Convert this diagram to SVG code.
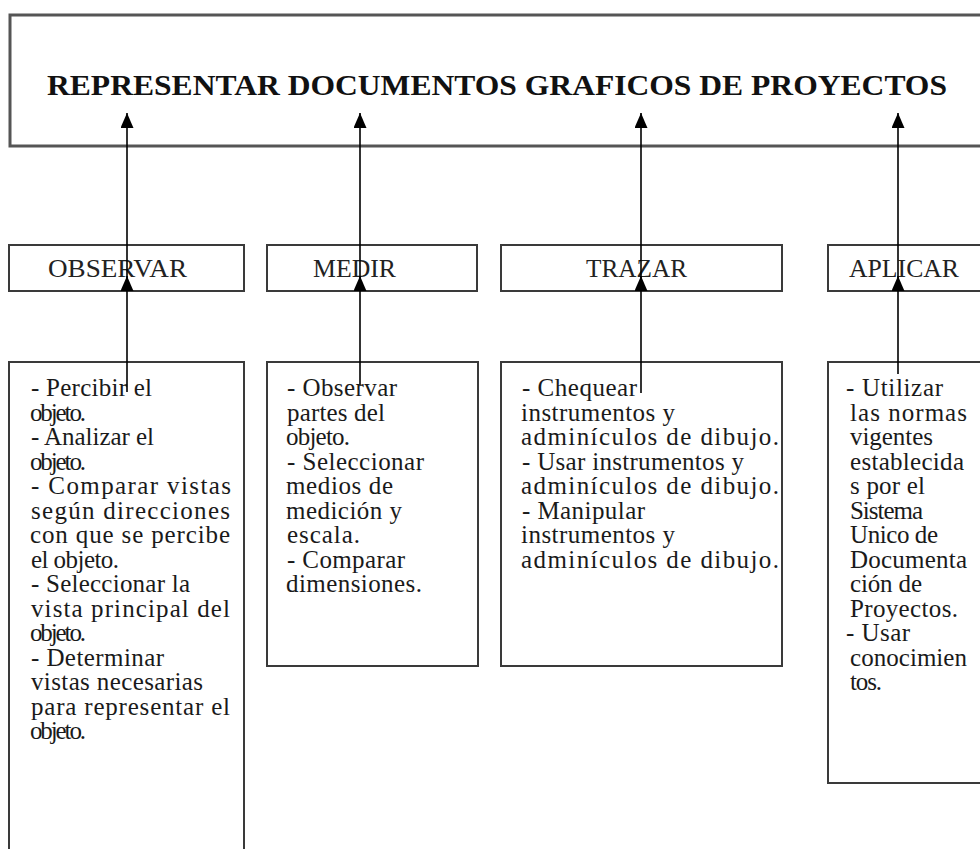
<svg xmlns="http://www.w3.org/2000/svg" width="980" height="849" viewBox="0 0 980 849">
<style>
.box{fill:#fff;stroke:#3a3a3a;stroke-width:2}
.top{fill:#fff;stroke:#555;stroke-width:3}
.title{font-family:"Liberation Serif","Times New Roman",serif;font-weight:bold;font-size:29px;fill:#111}
.lbl{font-family:"Liberation Serif","Times New Roman",serif;font-size:25px;fill:#222}
.txt{font-family:"Liberation Serif","Times New Roman",serif;font-size:25px;fill:#1a1a1a}
.con{stroke:#000;stroke-width:1.6;fill:none}
</style>
<defs>
<marker id="ah" markerUnits="userSpaceOnUse" viewBox="0 0 15 13" refX="15" refY="6.5" markerWidth="15" markerHeight="13" orient="auto">
<path d="M0,0 L15,6.5 L0,13 z" fill="#000"/>
</marker>
</defs>
<rect width="980" height="849" fill="#fff"/>

<g id="n-root">
<rect class="top" x="10" y="15" width="980" height="131"/>
<text class="title" x="47" y="95" textLength="900" lengthAdjust="spacingAndGlyphs">REPRESENTAR DOCUMENTOS GRAFICOS DE PROYECTOS</text>
</g>

<g id="n-observar">
<rect class="box" x="9" y="245" width="235" height="46"/>
<text class="lbl" x="48" y="277" textLength="139" lengthAdjust="spacingAndGlyphs">OBSERVAR</text>
</g>
<g id="n-medir">
<rect class="box" x="267" y="245" width="210" height="46"/>
<text class="lbl" x="313" y="277" textLength="83" lengthAdjust="spacingAndGlyphs">MEDIR</text>
</g>
<g id="n-trazar">
<rect class="box" x="501" y="245" width="281" height="46"/>
<text class="lbl" x="586" y="277" textLength="101" lengthAdjust="spacingAndGlyphs">TRAZAR</text>
</g>
<g id="n-aplicar">
<rect class="box" x="828" y="245" width="170" height="46"/>
<text class="lbl" x="849" y="277" textLength="110" lengthAdjust="spacingAndGlyphs">APLICAR</text>
</g>

<g id="n-observar-detalle">
<rect class="box" x="9" y="362" width="235" height="500"/>
<text class="txt" lengthAdjust="spacingAndGlyphs">
<tspan x="31" y="396" textLength="121">- Percibir el</tspan>
<tspan x="30" y="420.5" textLength="56">objeto.</tspan>
<tspan x="31" y="445" textLength="123">- Analizar el</tspan>
<tspan x="30" y="469.5" textLength="56">objeto.</tspan>
<tspan x="31" y="494" textLength="200">- Comparar vistas</tspan>
<tspan x="31" y="518.5" textLength="199">según direcciones</tspan>
<tspan x="30" y="543" textLength="200">con que se percibe</tspan>
<tspan x="31" y="567.5" textLength="88">el objeto.</tspan>
<tspan x="31" y="592" textLength="159">- Seleccionar la</tspan>
<tspan x="31" y="616.5" textLength="199">vista principal del</tspan>
<tspan x="30" y="641" textLength="56">objeto.</tspan>
<tspan x="31" y="665.5" textLength="133">- Determinar</tspan>
<tspan x="31" y="690" textLength="172">vistas necesarias</tspan>
<tspan x="31" y="714.5" textLength="199">para representar el</tspan>
<tspan x="30" y="739" textLength="56">objeto.</tspan>
</text>
</g>

<g id="n-medir-detalle">
<rect class="box" x="267" y="362" width="211" height="304"/>
<text class="txt" lengthAdjust="spacingAndGlyphs">
<tspan x="287" y="396" textLength="110">- Observar</tspan>
<tspan x="287" y="420.5" textLength="98">partes del</tspan>
<tspan x="286" y="445" textLength="64">objeto.</tspan>
<tspan x="287" y="469.5" textLength="137">- Seleccionar</tspan>
<tspan x="286" y="494" textLength="107">medios de</tspan>
<tspan x="286" y="518.5" textLength="116">medición y</tspan>
<tspan x="287" y="543" textLength="73">escala.</tspan>
<tspan x="287" y="567.5" textLength="118">- Comparar</tspan>
<tspan x="286" y="592" textLength="136">dimensiones.</tspan>
</text>
</g>

<g id="n-trazar-detalle">
<rect class="box" x="501" y="362" width="281" height="304"/>
<text class="txt" lengthAdjust="spacingAndGlyphs">
<tspan x="522" y="396" textLength="115">- Chequear</tspan>
<tspan x="521" y="420.5" textLength="154">instrumentos y</tspan>
<tspan x="521" y="445" textLength="258">adminículos de dibujo.</tspan>
<tspan x="522" y="469.5" textLength="222">- Usar instrumentos y</tspan>
<tspan x="521" y="494" textLength="258">adminículos de dibujo.</tspan>
<tspan x="522" y="518.5" textLength="123">- Manipular</tspan>
<tspan x="521" y="543" textLength="154">instrumentos y</tspan>
<tspan x="521" y="567.5" textLength="258">adminículos de dibujo.</tspan>
</text>
</g>

<g id="n-aplicar-detalle">
<rect class="box" x="828" y="362" width="170" height="421"/>
<text class="txt" lengthAdjust="spacingAndGlyphs">
<tspan x="846" y="396" textLength="97">- Utilizar</tspan>
<tspan x="850" y="420.5" textLength="117">las  normas</tspan>
<tspan x="850" y="445" textLength="83">vigentes</tspan>
<tspan x="850" y="469.5" textLength="114">establecida</tspan>
<tspan x="850" y="494" textLength="75">s por el</tspan>
<tspan x="850" y="518.5" textLength="73">Sistema</tspan>
<tspan x="850" y="543" textLength="88">Unico de</tspan>
<tspan x="850" y="567.5" textLength="117">Documenta</tspan>
<tspan x="850" y="592" textLength="72">ción de</tspan>
<tspan x="850" y="616.5" textLength="108">Proyectos.</tspan>
<tspan x="846" y="641" textLength="64">- Usar</tspan>
<tspan x="850" y="665.5" textLength="117">conocimien</tspan>
<tspan x="850" y="690" textLength="32">tos.</tspan>
</text>
</g>

<g id="connectors">
<line class="con" x1="127" y1="392" x2="127" y2="276" marker-end="url(#ah)"/>
<line class="con" x1="127" y1="290" x2="127" y2="113" marker-end="url(#ah)"/>
<line class="con" x1="360" y1="385" x2="360" y2="276" marker-end="url(#ah)"/>
<line class="con" x1="360" y1="290" x2="360" y2="113" marker-end="url(#ah)"/>
<line class="con" x1="641" y1="393" x2="641" y2="276" marker-end="url(#ah)"/>
<line class="con" x1="641" y1="290" x2="641" y2="113" marker-end="url(#ah)"/>
<line class="con" x1="898" y1="374" x2="898" y2="276" marker-end="url(#ah)"/>
<line class="con" x1="898" y1="290" x2="898" y2="113" marker-end="url(#ah)"/>
</g>
</svg>
